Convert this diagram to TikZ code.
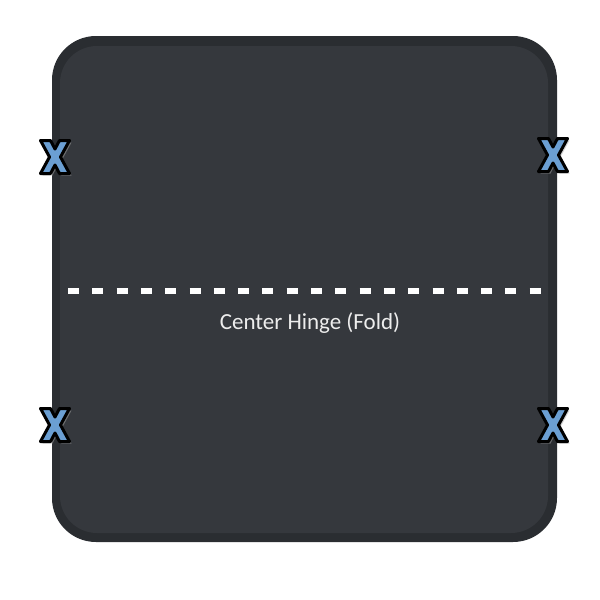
\documentclass[tikz,border=0pt]{standalone}
\usepackage{fontspec}
\setmainfont{Carlito}
\definecolor{boxouter}{HTML}{2A2D31}
\definecolor{boxinner}{HTML}{35383D}
\definecolor{xblue}{HTML}{6B9FD3}
\definecolor{labeltext}{HTML}{EDEDED}
\tikzset{
  xmark/.pic={
    \fill[black!35,opacity=0.5,shift={(2,2)}] (-14.5,-16.5) -- (-4.5,-16.5) -- (0,-8) -- (4.5,-16.5) -- (14.5,-16.5) -- (5.5,0) -- (14.5,16.5) -- (4.5,16.5) -- (0,8) -- (-4.5,16.5) -- (-14.5,16.5) -- (-5.5,0) -- cycle;
    \filldraw[fill=xblue,draw=black,line width=3pt,line join=round] (-14.5,-16.5) -- (-4.5,-16.5) -- (0,-8) -- (4.5,-16.5) -- (14.5,-16.5) -- (5.5,0) -- (14.5,16.5) -- (4.5,16.5) -- (0,8) -- (-4.5,16.5) -- (-14.5,16.5) -- (-5.5,0) -- cycle;
  },
  hinge/.style={draw=white,line width=6.5pt,dash pattern=on 11pt off 13.3pt},
  hingelabel/.style={text=labeltext,font=\fontsize{23}{27}\selectfont,inner sep=0pt}
}
\begin{document}
\begin{tikzpicture}[x=1pt,y=-1pt]
\useasboundingbox (0,0) rectangle (600,600);
\fill[white] (0,0) rectangle (600,600);
\fill[boxouter,rounded corners=44pt] (52,36) rectangle (557,542);
\fill[boxinner,rounded corners=37pt] (60,46) rectangle (548,533);
\coordinate (hl) at (68,291);
\coordinate (hr) at (546,291);
\draw[hinge] (hl) -- (hr);
\node[hingelabel] (label) at (310,323) {Center Hinge (Fold)};
\pic at (55,157) {xmark};
\pic at (553,155) {xmark};
\pic at (55,425) {xmark};
\pic at (553,425) {xmark};
\end{tikzpicture}
\end{document}
